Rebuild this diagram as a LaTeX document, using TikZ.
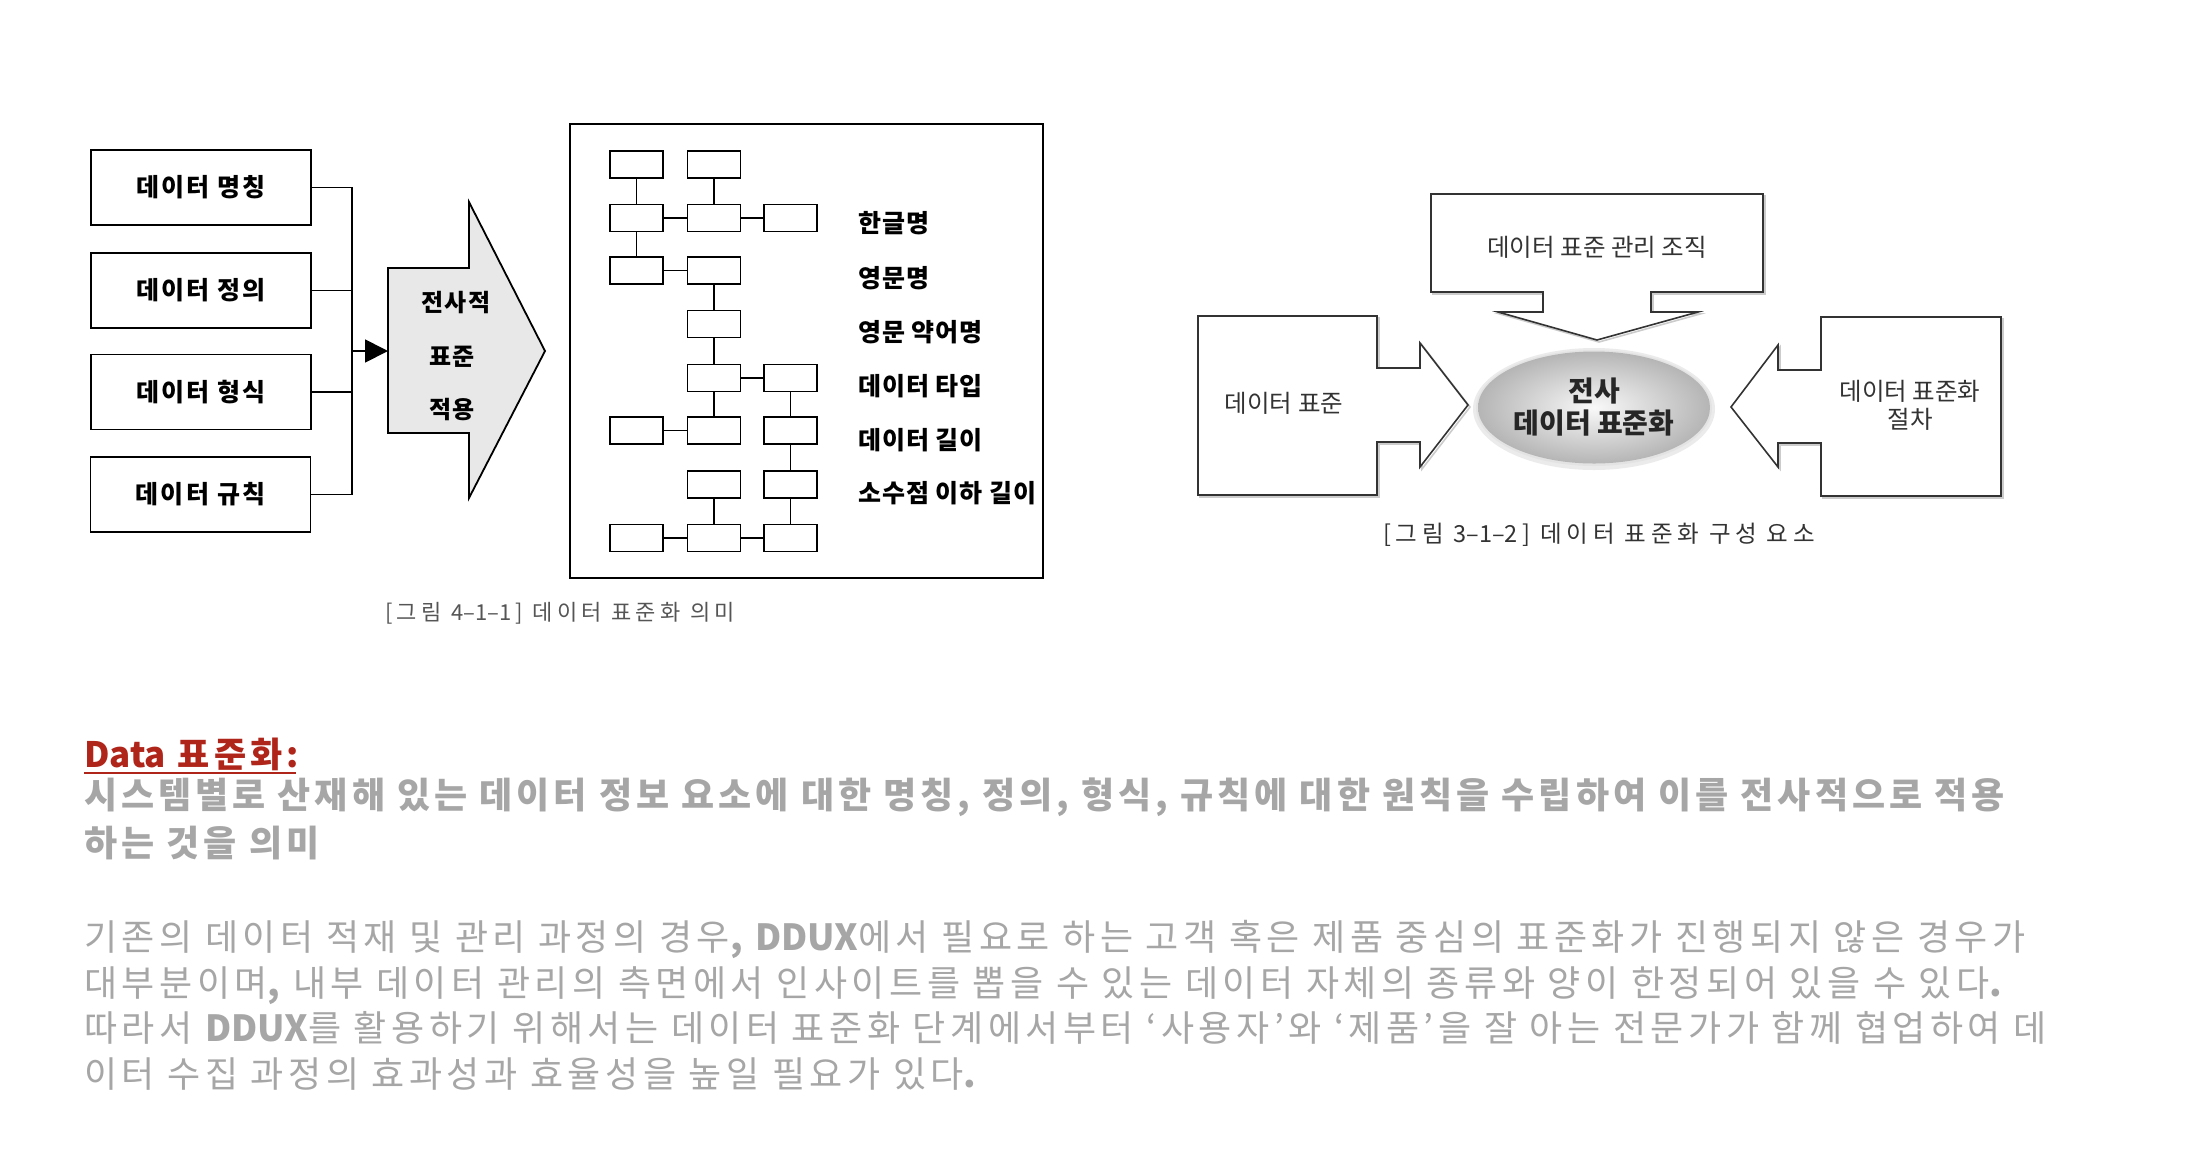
\documentclass[tikz,border=0pt]{standalone}
\usepackage{fontspec}
\newfontfamily\kr{Noto Sans CJK KR}
\newfontfamily\krd{Noto Sans CJK KR}[LetterSpace=4]
\newfontfamily\kre{Noto Sans CJK KR}[LetterSpace=9]
\newfontfamily\krc{Noto Sans CJK KR}[LetterSpace=20]
\newfontfamily\krb{Noto Sans CJK KR}[LetterSpace=11]
\newfontfamily\krp{Noto Sans CJK KR}[LetterSpace=12.5]
\usetikzlibrary{arrows.meta,shapes.geometric,calc}
\definecolor{bodygray}{HTML}{A6A6A6}
\definecolor{hdrred}{HTML}{B0251A}
\definecolor{dk}{HTML}{333333}
\definecolor{capgray}{HTML}{555555}
\begin{document}
\begin{tikzpicture}[x=1pt,y=-1pt,
  lbox/.style={draw, line width=1.8, minimum width=220, minimum height=75, inner sep=0, font=\kre\bfseries\fontsize{25}{29}\selectfont},
  tbox/.style={draw, line width=1.8, minimum width=53, minimum height=27, inner sep=0},
  tlink/.style={line width=1.8},
  tlabel/.style={anchor=west, inner sep=0, font=\krd\bfseries\fontsize{25}{29}\selectfont},
  atext/.style={inner sep=0, font=\krd\bfseries\fontsize{24}{28}\selectfont},
  shp/.style={draw=dk, line width=1.6, fill=white, line join=miter},
  shpshadow/.style={draw=gray!40, line width=1.6},
  rtext/.style={inner sep=0, text=dk, align=center, font=\kr\fontsize{24.5}{28}\selectfont},
  bodyline/.style={anchor=base west, inner sep=0, text=bodygray, font=\krp\fontsize{36}{42}\selectfont},
]
\useasboundingbox[fill=white] (0,0) rectangle (2196,1152);

% ---------------- left figure ----------------
\node[lbox] (b1) at (201,187.5) {데이터 명칭};
\node[lbox] (b2) at (201,290.5) {데이터 정의};
\node[lbox] (b3) at (201,392) {데이터 형식};
\node[lbox] (b4) at (200.5,494.5) {데이터 규칙};
\coordinate (bus) at (352,351);
\coordinate (tail) at (388,351);
\draw[line width=1.8] (b1.east) -| (bus);
\draw[line width=1.8] (b4.east) -| (bus);
\draw[line width=1.8] (b2.east) -- (b2.east -| bus);
\draw[line width=1.8] (b3.east) -- (b3.east -| bus);
\draw[line width=1.8, -{Triangle[length=23,width=23]}] (bus) -- (tail);
\draw[line width=1.8, fill=gray!18] (388,268) -- (469,268) -- (469,202) -- (545,351) -- (469,498) -- (469,433) -- (388,433) -- cycle;
\node[atext] (a1) at (456,303) {전사적};
\node[atext] (a2) at (452,357) {표준};
\node[atext] (a3) at (452,410) {적용};

% tree frame
\node[draw, line width=2.2, minimum width=473, minimum height=454, inner sep=0] (frame) at (806.5,351) {};
\node[tbox] (n11) at (636.5,164.5) {};
\node[tbox] (n12) at (714,164.5) {};
\node[tbox] (n21) at (636.5,218) {};
\node[tbox] (n22) at (714,218) {};
\node[tbox] (n23) at (790.5,218) {};
\node[tbox] (n31) at (636.5,270.5) {};
\node[tbox] (n32) at (714,270.5) {};
\node[tbox] (n42) at (714,324) {};
\node[tbox] (n52) at (714,378) {};
\node[tbox] (n53) at (790.5,378) {};
\node[tbox] (n61) at (636.5,430.5) {};
\node[tbox] (n62) at (714,430.5) {};
\node[tbox] (n63) at (790.5,430.5) {};
\node[tbox] (n72) at (714,484.5) {};
\node[tbox] (n73) at (790.5,484.5) {};
\node[tbox] (n81) at (636.5,538) {};
\node[tbox] (n82) at (714,538) {};
\node[tbox] (n83) at (790.5,538) {};
\draw[tlink] (n11) -- (n21);
\draw[tlink] (n12) -- (n22);
\draw[tlink] (n21) -- (n22);
\draw[tlink] (n22) -- (n23);
\draw[tlink] (n21) -- (n31);
\draw[tlink] (n31) -- (n32);
\draw[tlink] (n32) -- (n42);
\draw[tlink] (n42) -- (n52);
\draw[tlink] (n52) -- (n53);
\draw[tlink] (n52) -- (n62);
\draw[tlink] (n53) -- (n63);
\draw[tlink] (n61) -- (n62);
\draw[tlink] (n63) -- (n73);
\draw[tlink] (n73) -- (n83);
\draw[tlink] (n72) -- (n82);
\draw[tlink] (n81) -- (n82);
\draw[tlink] (n82) -- (n83);
\node[tlabel] (l1) at (858,223) {한글명};
\node[tlabel] (l2) at (858,278) {영문명};
\node[tlabel] (l3) at (858,332) {영문 약어명};
\node[tlabel] (l4) at (858,386) {데이터 타입};
\node[tlabel] (l5) at (858,440) {데이터 길이};
\node[tlabel] (l6) at (858,493) {소수점 이하 길이};
\node[inner sep=0, text=capgray, font=\krc\fontsize{22}{26}\selectfont] (cap1) at (560,613) {[그림 4{\kr–}1{\kr–}1] 데이터 표준화 의미};

% ---------------- right figure ----------------
\begin{scope}[shift={(2,2)}]
\draw[shpshadow] (1431,194) -- (1763,194) -- (1763,292) -- (1651,292) -- (1651,312) -- (1698,312) -- (1597,340) -- (1498,312) -- (1543,312) -- (1543,292) -- (1431,292) -- cycle;
\draw[shpshadow] (1198,316) -- (1377,316) -- (1377,368) -- (1420,368) -- (1420,343) -- (1468,405) -- (1420,467) -- (1420,442) -- (1377,442) -- (1377,495) -- (1198,495) -- cycle;
\draw[shpshadow] (2001,317) -- (1821,317) -- (1821,370) -- (1778,370) -- (1778,345) -- (1731,407) -- (1778,467) -- (1778,443) -- (1821,443) -- (1821,496) -- (2001,496) -- cycle;
\end{scope}
\draw[shp] (1431,194) -- (1763,194) -- (1763,292) -- (1651,292) -- (1651,312) -- (1698,312) -- (1597,340) -- (1498,312) -- (1543,312) -- (1543,292) -- (1431,292) -- cycle;
\draw[shp] (1198,316) -- (1377,316) -- (1377,368) -- (1420,368) -- (1420,343) -- (1468,405) -- (1420,467) -- (1420,442) -- (1377,442) -- (1377,495) -- (1198,495) -- cycle;
\draw[shp] (2001,317) -- (1821,317) -- (1821,370) -- (1778,370) -- (1778,345) -- (1731,407) -- (1778,467) -- (1778,443) -- (1821,443) -- (1821,496) -- (2001,496) -- cycle;
\node[rtext] (top) at (1597,247) {데이터 표준 관리 조직};
\node[rtext] (lft) at (1284,403) {데이터 표준};
\node[rtext] (rgt) at (1910,405) {데이터 표준화\\절차};
\fill[gray!30, opacity=0.5] (1594,409) ellipse [x radius=121, y radius=61];
\fill[gray!25, opacity=0.6] (1594,408) ellipse [x radius=118, y radius=58];
\node[ellipse, minimum width=232, minimum height=112, inner sep=0, inner color=gray!5, outer color=gray!58, align=center, text=black!85, font=\kr\bfseries\fontsize{28}{32}\selectfont] (core) at (1594,407.5) {전사\\데이터 표준화};
\node[inner sep=0, text=dk, font=\krc\fontsize{23.5}{27}\selectfont] (cap2) at (1599,535) {[그림 3{\kr–}1{\kr–}2] 데이터 표준화 구성 요소};

% ---------------- text ----------------
\node[bodyline, text=hdrred, font=\krb\bfseries\fontsize{35}{40}\selectfont] (hdr) at (84,767) {{\kr Data} 표준화:};
\draw[hdrred, line width=2.2] ($(hdr.base west)+(0,6)$) -- ($(hdr.base east)+(-3,6)$);
\node[bodyline, font=\krb\bfseries\fontsize{36}{42}\selectfont] (s1) at (84,808) {시스템별로 산재해 있는 데이터 정보 요소에 대한 명칭, 정의, 형식, 규칙에 대한 원칙을 수립하여 이를 전사적으로 적용};
\node[bodyline, font=\krb\bfseries\fontsize{36}{42}\selectfont] (s2) at (84,856) {하는 것을 의미};
\node[bodyline] (p1) at (84,950) {기존의 데이터 적재 및 관리 과정의 경우{\bfseries,} {\kr\bfseries DDUX}에서 필요로 하는 고객 혹은 제품 중심의 표준화가 진행되지 않은 경우가};
\node[bodyline] (p2) at (84,996) {대부분이며{\bfseries,} 내부 데이터 관리의 측면에서 인사이트를 뽑을 수 있는 데이터 자체의 종류와 양이 한정되어 있을 수 있다{\bfseries.}};
\node[bodyline] (p3) at (84,1041) {따라서 {\kr\bfseries DDUX}를 활용하기 위해서는 데이터 표준화 단계에서부터 ‘사용자’와 ‘제품’을 잘 아는 전문가가 함께 협업하여 데};
\node[bodyline] (p4) at (84,1087) {이터 수집 과정의 효과성과 효율성을 높일 필요가 있다{\bfseries.}};
\end{tikzpicture}
\end{document}
